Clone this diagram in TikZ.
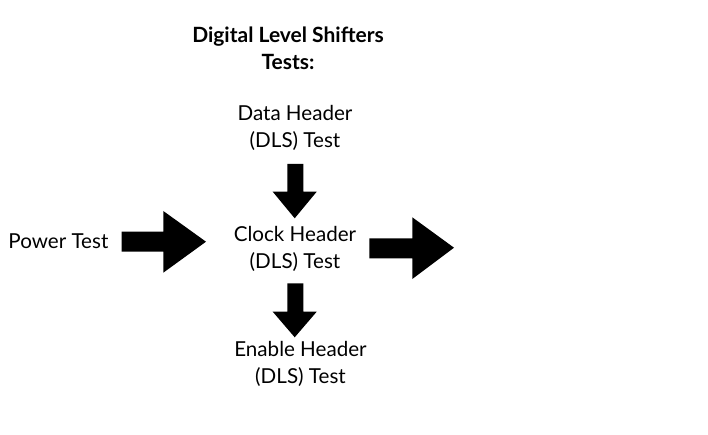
\documentclass[tikz,border=0pt]{standalone}
\usepackage{fontspec}
\setmainfont{Lato}
\begin{document}
\begin{tikzpicture}[x=1pt,y=-1pt,
  lbl/.style={align=center,font=\fontsize{20.6}{26.7}\selectfont,inner sep=0pt,anchor=base},
  ttl/.style={align=center,font=\fontsize{21}{27.7}\selectfont\bfseries,inner sep=0pt,anchor=base},
  blk/.style={fill=black,draw=none}]
\useasboundingbox[fill=white] (0,0) rectangle (708,435);
\node[ttl] (title) at (288,70) {Digital Level Shifters\\Tests:};
\node[lbl] (data) at (295,147.3) {Data Header\\(DLS) Test};
\node[lbl] (clock) at (295,268.3) {Clock Header\\(DLS) Test};
\node[lbl] (enable) at (300.5,383.3) {Enable Header\\(DLS) Test};
\node[lbl,anchor=base west] (power) at (8.3,249) {Power Test};
% down arrow data -> clock
\fill[blk] (287.3,164) -- (303.3,164) -- (303.3,191.7) -- (316.7,191.7) -- (294.7,218.3) -- (272.7,191.7) -- (287.3,191.7) -- cycle;
% down arrow clock -> enable
\fill[blk] (287.3,283.3) -- (303.3,283.3) -- (303.3,311.7) -- (316.7,311.7) -- (294.7,337.3) -- (272.7,311.7) -- (287.3,311.7) -- cycle;
% power -> clock
\fill[blk] (121.7,231.7) -- (163.3,231.7) -- (163.3,211) -- (206,241.7) -- (163.3,272.7) -- (163.3,251.7) -- (121.7,251.7) -- cycle;
% clock -> out
\fill[blk] (369.3,238.3) -- (412.3,238.3) -- (412.3,217.3) -- (454,247.7) -- (412.3,279) -- (412.3,258.3) -- (369.3,258.3) -- cycle;
\end{tikzpicture}
\end{document}
